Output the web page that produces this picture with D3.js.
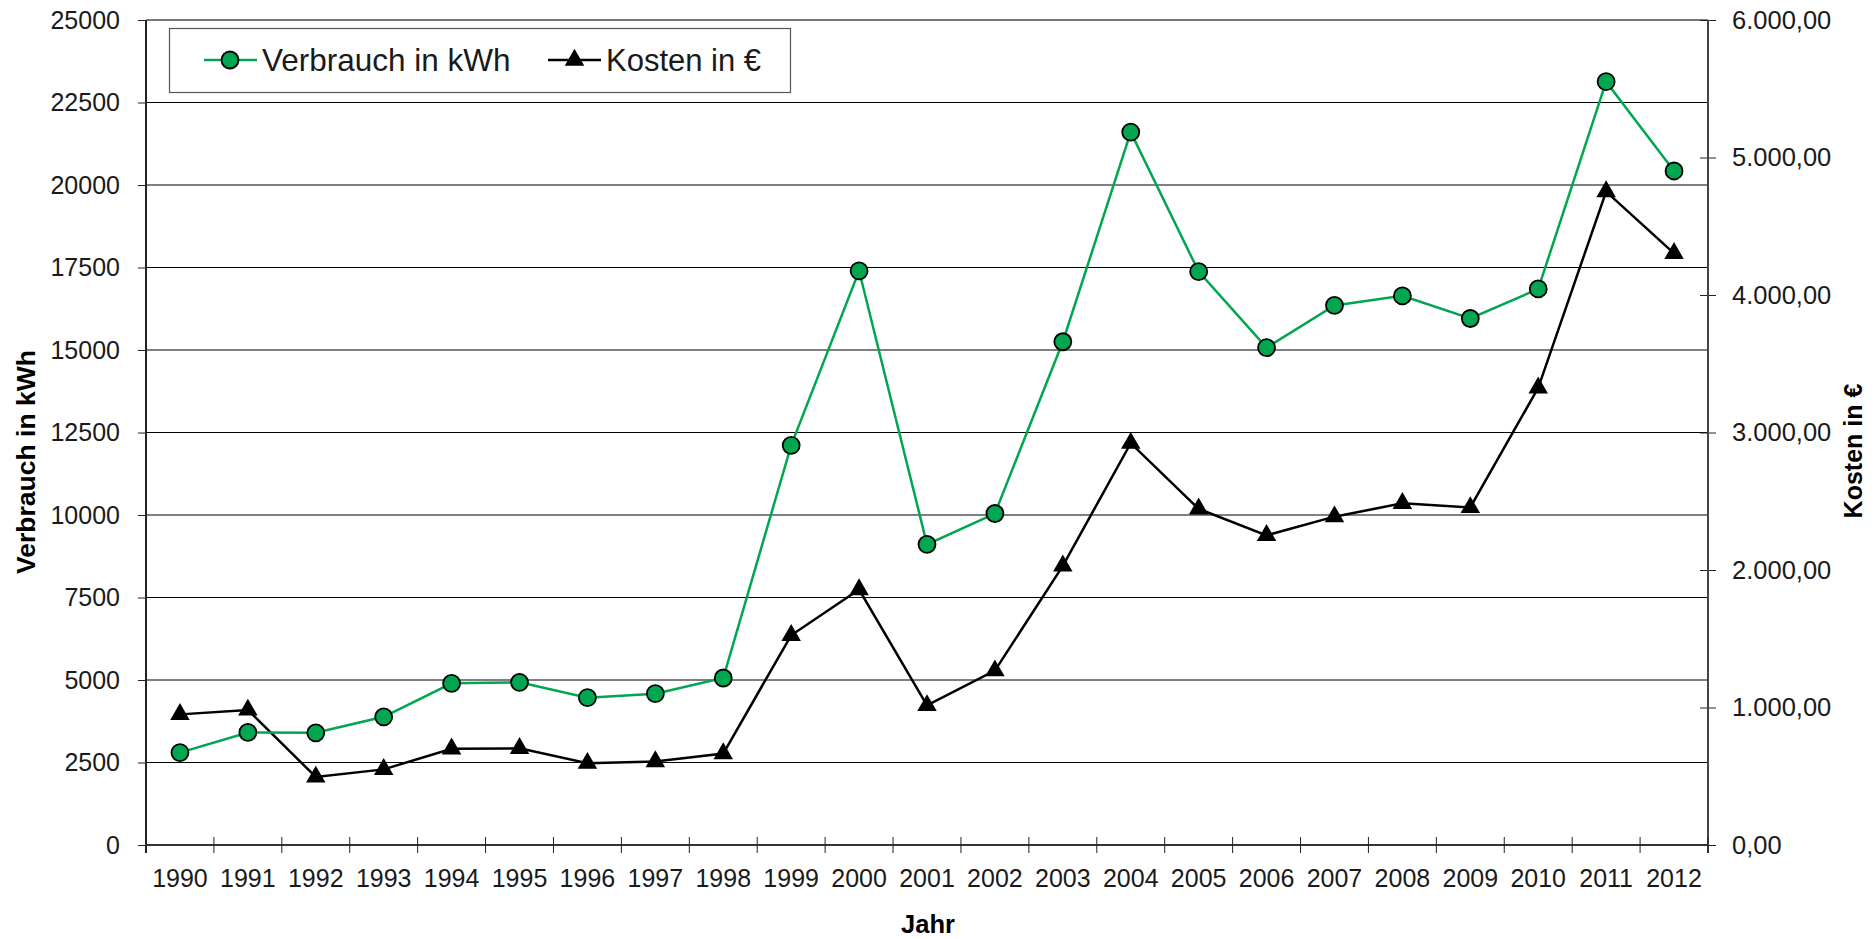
<!DOCTYPE html>
<html><head><meta charset="utf-8">
<script src="https://cdn.jsdelivr.net/npm/d3@7"></script>
<style>
html,body{margin:0;padding:0;background:#fff;}
svg{display:block;font-family:"Liberation Sans",Arial,sans-serif;}
</style></head>
<body>
<svg id="chart" width="1875" height="939"></svg>
<script>
const years = ["1990","1991","1992","1993","1994","1995","1996","1997","1998","1999","2000","2001","2002","2003","2004","2005","2006","2007","2008","2009","2010","2011","2012"];
const verbrauch = [2800,3410,3400,3885,4900,4930,4465,4585,5060,12110,17400,9110,10045,15250,21600,17375,15070,16350,16640,15955,16850,23130,20425];
const kosten = [950,982,495,550,700,703,595,607,665,1525,1858,1015,1268,2030,2922,2445,2252,2388,2485,2455,3325,4752,4303];
const leftTicks = [0,2500,5000,7500,10000,12500,15000,17500,20000,22500,25000];
const rightTicks = [0,1000,2000,3000,4000,5000,6000];
const seriesNames = ["Verbrauch in kWh","Kosten in €"];

const L = 146, R = 1708, T = 20, B = 845;
const green = "#00a650";
const svg = d3.select("#chart");

const x = d3.scaleBand().domain(years).range([L, R]).padding(0);
const yL = d3.scaleLinear().domain([0, 25000]).range([B, T]);
const yR = d3.scaleLinear().domain([0, 6000]).range([B, T]);
const fmtR = v => d3.format(",.2f")(v).replace(/,/g, "X").replace(/\./g, ",").replace(/X/g, ".");

// gridlines
svg.append("g").selectAll("line").data(leftTicks.filter(d => d > 0)).join("line")
  .attr("x1", L).attr("x2", R).attr("y1", d => yL(d)).attr("y2", d => yL(d))
  .attr("stroke", d => d === 25000 ? "#777" : "#000").attr("stroke-width", d => d === 25000 ? 2 : 1);

// left axis
const gl = svg.append("g").attr("transform", `translate(${L},0)`)
  .call(d3.axisLeft(yL).tickValues(leftTicks).tickSize(8).tickPadding(18).tickFormat(d3.format("d")));
gl.select(".domain").remove();
gl.selectAll(".tick line").attr("stroke", "#222");
gl.selectAll(".tick text").attr("font-size", 25).attr("fill", "#1a1a1a").attr("font-family", "Liberation Sans, Arial, sans-serif");
svg.append("line").attr("x1", L).attr("x2", L).attr("y1", T).attr("y2", B + 8).attr("stroke", "#222").attr("stroke-width", 2);

// right axis
const gr = svg.append("g").attr("transform", `translate(${R},0)`)
  .call(d3.axisRight(yR).tickValues(rightTicks).tickSize(8).tickPadding(16).tickFormat(fmtR));
gr.select(".domain").remove();
gr.selectAll(".tick line").attr("stroke", "#222").attr("x1", -8);
gr.selectAll(".tick text").attr("font-size", 25.5).attr("fill", "#1a1a1a").attr("font-family", "Liberation Sans, Arial, sans-serif");
svg.append("line").attr("x1", R).attr("x2", R).attr("y1", T).attr("y2", B + 8).attr("stroke", "#444").attr("stroke-width", 2);

// x axis
svg.append("line").attr("x1", L).attr("x2", R).attr("y1", B).attr("y2", B).attr("stroke", "#333").attr("stroke-width", 2);
const bounds = years.map(y => x(y)).concat([R]);
svg.append("g").selectAll("line").data(bounds.slice(1)).join("line")
  .attr("x1", d => d).attr("x2", d => d).attr("y1", B - 8).attr("y2", B + 8)
  .attr("stroke", "#222").attr("stroke-width", 1);
svg.append("g").selectAll("text").data(years).join("text")
  .attr("x", d => x(d) + x.bandwidth() / 2).attr("y", 887)
  .attr("text-anchor", "middle").attr("font-size", 25).attr("fill", "#1a1a1a").text(d => d);

// axis titles
svg.append("text").attr("transform", `translate(928,933)`).attr("text-anchor", "middle")
  .attr("font-size", 25.5).attr("font-weight", "bold").text("Jahr");
svg.append("text").attr("transform", `translate(35,462) rotate(-90)`).attr("text-anchor", "middle")
  .attr("font-size", 26.5).attr("font-weight", "bold").text(seriesNames[0]);
svg.append("text").attr("transform", `translate(1862,451) rotate(-90)`).attr("text-anchor", "middle")
  .attr("font-size", 25).attr("font-weight", "bold").text(seriesNames[1]);

const cx = d => x(d) + x.bandwidth() / 2;

// Kosten line
svg.append("path").datum(kosten).attr("fill", "none").attr("stroke", "#000").attr("stroke-width", 2.5)
  .attr("d", d3.line().x((d, i) => cx(years[i])).y(d => yR(d)));
// Verbrauch line
svg.append("path").datum(verbrauch).attr("fill", "none").attr("stroke", green).attr("stroke-width", 2.5)
  .attr("d", d3.line().x((d, i) => cx(years[i])).y(d => yL(d)));

const tri = d3.symbol().type(d3.symbolTriangle).size(165);
svg.append("g").selectAll("path").data(kosten).join("path")
  .attr("d", tri).attr("transform", (d, i) => `translate(${cx(years[i])},${yR(d)})`).attr("fill", "#000");
svg.append("g").selectAll("circle").data(verbrauch).join("circle")
  .attr("cx", (d, i) => cx(years[i])).attr("cy", d => yL(d)).attr("r", 8.5)
  .attr("fill", green).attr("stroke", "#000").attr("stroke-width", 1.8);

// legend
const lg = svg.append("g");
lg.append("rect").attr("x", 169.5).attr("y", 28.5).attr("width", 621).attr("height", 64)
  .attr("fill", "#fff").attr("stroke", "#555").attr("stroke-width", 1.2);
lg.append("line").attr("x1", 204).attr("x2", 257).attr("y1", 60).attr("y2", 60).attr("stroke", green).attr("stroke-width", 2.5);
lg.append("circle").attr("cx", 230).attr("cy", 60).attr("r", 8.5).attr("fill", green).attr("stroke", "#000").attr("stroke-width", 1.8);
lg.append("text").attr("x", 262).attr("y", 71).attr("font-size", 31.5).attr("fill", "#1a1a1a").text(seriesNames[0]);
lg.append("line").attr("x1", 548).attr("x2", 601).attr("y1", 60).attr("y2", 60).attr("stroke", "#000").attr("stroke-width", 2.5);
lg.append("path").attr("d", tri).attr("transform", "translate(574.5,60)").attr("fill", "#000");
lg.append("text").attr("x", 606).attr("y", 71).attr("font-size", 31).attr("fill", "#1a1a1a").text(seriesNames[1]);
</script>
</body></html>
